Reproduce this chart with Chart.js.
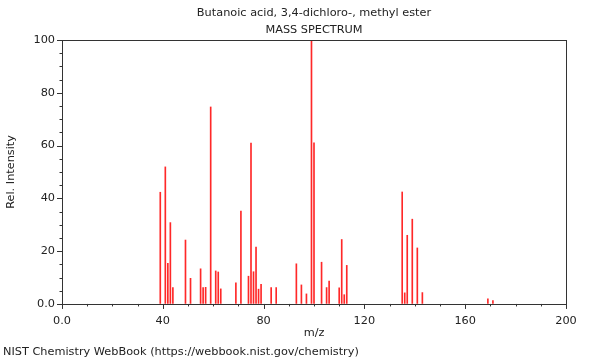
<!DOCTYPE html>
<html>
<head>
<meta charset="utf-8">
<script src="https://cdn.jsdelivr.net/npm/chart.js@4/dist/chart.umd.min.js"></script>
<style>
  html, body { margin: 0; padding: 0; background: #fff; }
  #wrap { position: relative; width: 600px; height: 360px; }
</style>
</head>
<body>
<div id="wrap"><canvas id="ms-chart" width="600" height="360"></canvas></div>
<script>
// m/z values and relative intensities
const mz = [39, 41, 42, 43, 44, 49, 51, 55, 56, 57, 59, 61, 62, 63, 69, 71, 74, 75, 76, 77, 78, 79,
  83, 85, 93, 95, 97, 99, 100, 103, 105, 106, 110, 111, 112, 113, 135, 136, 137, 139, 141, 143, 169, 171];
const intensity = [42.3, 51.9, 15.4, 30.8, 6.2, 24.2, 9.7, 13.3, 6.2, 6.3, 74.6, 12.5, 12.1, 5.7, 8.0, 35.2, 10.5, 60.9, 12.2, 21.5, 5.6, 7.4,
  6.2, 6.2, 15.2, 7.2, 3.8, 100, 61.0, 15.8, 6.2, 8.7, 6.1, 24.4, 3.5, 14.6, 42.4, 4.2, 26.0, 32.1, 21.2, 4.3, 1.9, 1.3];
const xMajor = 40;
const yMajor = 20;

const txt = "#222";
const fnt = { family: "'DejaVu Sans', sans-serif", size: 11.3, weight: "normal" };

const fmt = (v, step) => (v % step === 0 ? (v === 0 ? "0.0" : String(v)) : "");

// box around the plot and custom major/minor tick marks
const frame = {
  id: "frame",
  afterDraw(chart) {
    const { ctx, chartArea: a, scales } = chart;
    ctx.save();
    ctx.strokeStyle = "#333";
    ctx.lineWidth = 1;
    ctx.strokeRect(Math.round(a.left) + 0.5, Math.round(a.top) + 0.5,
      Math.round(a.right - a.left), Math.round(a.bottom - a.top));
    ctx.beginPath();
    scales.x.ticks.forEach(t => {
      const px = Math.round(scales.x.getPixelForValue(t.value)) + 0.5;
      const len = t.value % xMajor === 0 ? 5 : 2.5;
      ctx.moveTo(px, a.bottom);
      ctx.lineTo(px, a.bottom + len);
    });
    scales.y.ticks.forEach(t => {
      const py = Math.round(scales.y.getPixelForValue(t.value)) + 0.5;
      const len = t.value % yMajor === 0 ? 5 : 2.5;
      ctx.moveTo(a.left, py);
      ctx.lineTo(a.left - len, py);
    });
    ctx.stroke();
    ctx.restore();
  }
};

new Chart(document.getElementById("ms-chart"), {
  type: "bar",
  data: {
    datasets: [{
      data: mz.map((m, i) => ({ x: m, y: intensity[i] })),
      backgroundColor: "rgb(255,40,40)",
      borderWidth: 0,
      barThickness: 1,
      grouped: false
    }]
  },
  options: {
    responsive: false,
    animation: false,
    layout: { padding: { left: 3, right: 34, top: 0, bottom: 0 } },
    plugins: {
      legend: { display: false },
      tooltip: { enabled: false },
      title: {
        display: true,
        fullSize: false,
        text: ["Butanoic acid, 3,4-dichloro-, methyl ester", "MASS SPECTRUM"],
        color: txt,
        font: { ...fnt, lineHeight: 1.5 },
        padding: { top: 5, bottom: 1 }
      },
      subtitle: {
        display: true,
        position: "bottom",
        align: "start",
        text: "NIST Chemistry WebBook (https://webbook.nist.gov/chemistry)",
        color: txt,
        font: fnt,
        padding: { top: 4, bottom: 1 }
      }
    },
    scales: {
      x: {
        type: "linear",
        min: 0,
        max: 200,
        offset: false,
        afterFit: s => { s.height = 37.5; },
        grid: { display: true, offset: false, drawOnChartArea: false, drawTicks: true, tickLength: 5, tickColor: "rgba(0,0,0,0)" },
        border: { display: false },
        ticks: {
          stepSize: 10,
          autoSkip: false,
          maxRotation: 0,
          padding: 5,
          color: txt,
          font: fnt,
          callback: v => fmt(v, xMajor)
        },
        title: { display: true, text: "m/z", color: txt, font: fnt, padding: { top: 0, bottom: 2 } }
      },
      y: {
        min: 0,
        max: 100,
        afterFit: s => { s.width = 59; },
        grid: { display: true, drawOnChartArea: false, drawTicks: true, tickLength: 5, tickColor: "rgba(0,0,0,0)" },
        border: { display: false },
        ticks: {
          stepSize: 5,
          autoSkip: false,
          padding: 2,
          color: txt,
          font: fnt,
          callback: v => fmt(v, yMajor)
        },
        title: { display: true, text: "Rel. Intensity", color: txt, font: fnt, padding: { top: 1, bottom: 0 } }
      }
    }
  },
  plugins: [frame]
});
</script>
</body>
</html>
